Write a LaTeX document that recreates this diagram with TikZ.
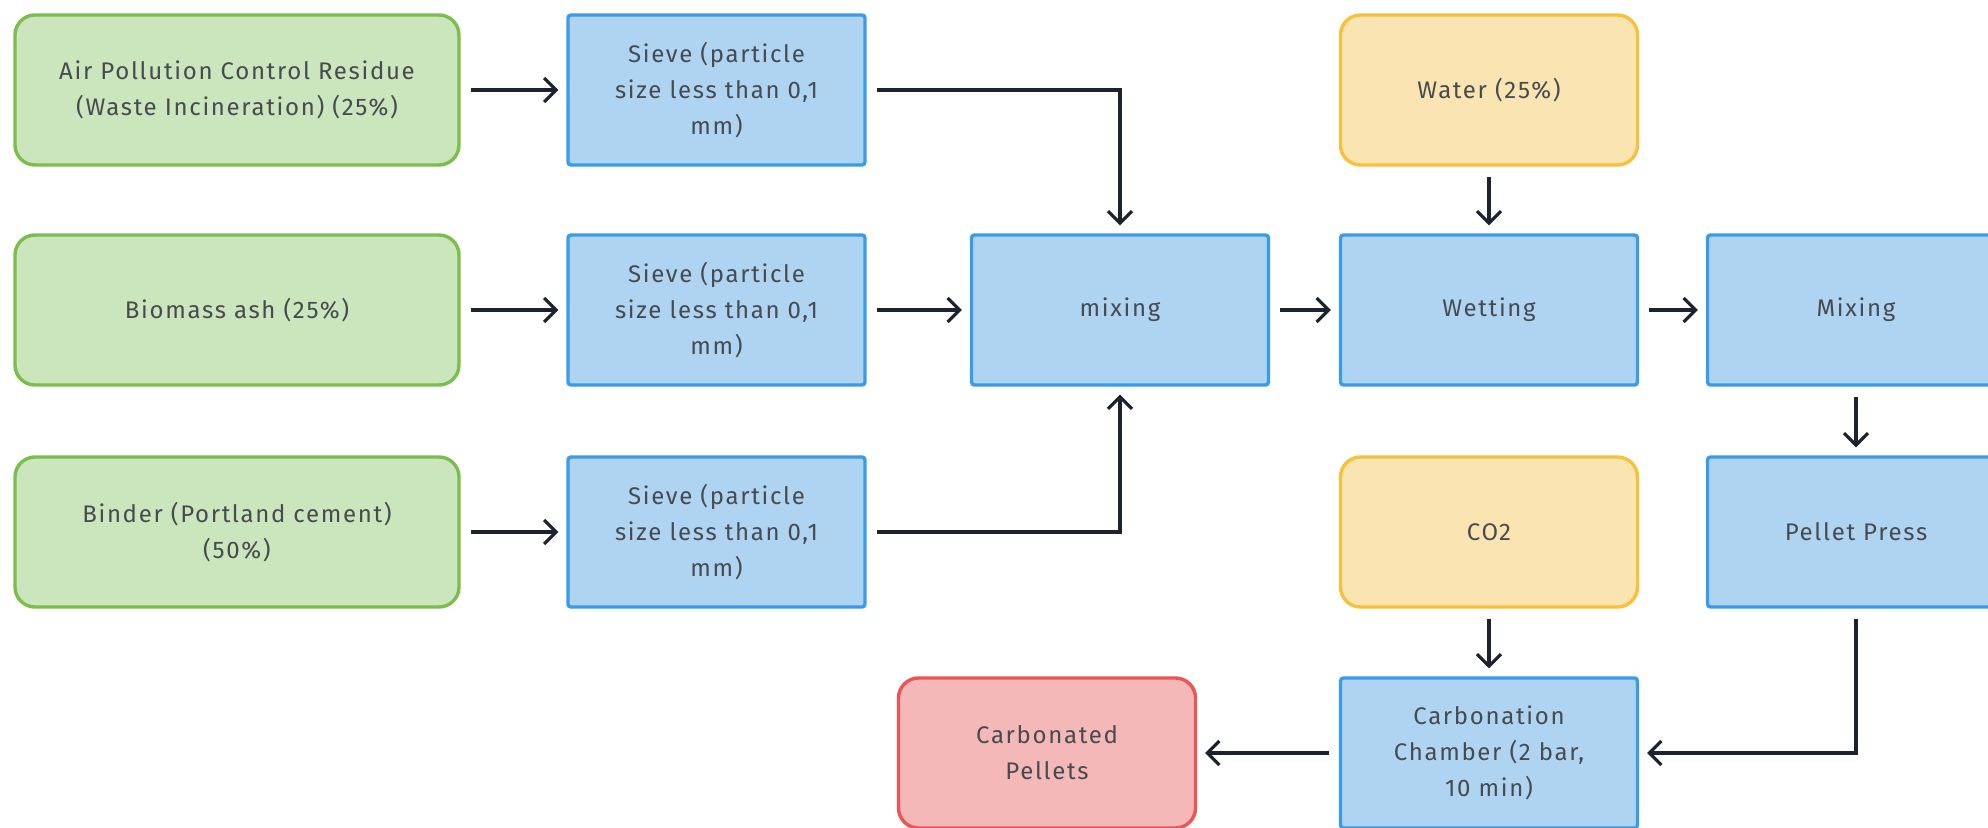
\documentclass[tikz,border=0pt]{standalone}
\usepackage{fontspec}
\setmainfont{Fira Sans}[LetterSpace=7]
\usetikzlibrary{arrows.meta}
\definecolor{gfill}{HTML}{CBE5BC}
\definecolor{gdraw}{HTML}{7BBE4D}
\definecolor{bfill}{HTML}{AED4F2}
\definecolor{bdraw}{HTML}{3A9BE8}
\definecolor{yfill}{HTML}{FAE5B2}
\definecolor{ydraw}{HTML}{F8C13C}
\definecolor{rfill}{HTML}{F5B8B8}
\definecolor{rdraw}{HTML}{EB5555}
\definecolor{txt}{HTML}{464B50}
\definecolor{arr}{HTML}{1C2230}
\tikzset{
  box/.style={draw, line width=1.7pt, minimum width=148.5pt, minimum height=75pt,
    align=center, text=txt, font=\fontsize{12}{18}\selectfont, inner sep=2pt},
  greenbox/.style={box, fill=gfill, draw=gdraw, rounded corners=10pt, minimum width=222pt},
  bluebox/.style={box, fill=bfill, draw=bdraw, rounded corners=1.5pt},
  yellowbox/.style={box, fill=yfill, draw=ydraw, rounded corners=10pt},
  redbox/.style={box, fill=rfill, draw=rdraw, rounded corners=10pt},
  flow/.style={draw=arr, line width=1.6pt, -{Straight Barb[length=6pt,width=12pt,line width=1.6pt]},
    shorten <=5pt, shorten >=4pt},
}
\begin{document}
\begin{tikzpicture}[x=0.5pt,y=-0.5pt]
\useasboundingbox (0,0) rectangle (1988,828);
\clip (0,0) rectangle (1988,828);
\fill[white] (0,0) rectangle (1988,828);
% column 1
\node[greenbox] (apc) at (237,90) {Air Pollution Control Residue\\(Waste Incineration) (25\%)};
\node[greenbox] (bio) at (237,310) {Biomass ash (25\%)};
\node[greenbox] (bind) at (237,532) {Binder (Portland cement)\\(50\%)};
% sieves
\node[bluebox] (s1) at (716.5,90) {Sieve (particle\\size less than 0,1\\mm)};
\node[bluebox] (s2) at (716.5,310) {Sieve (particle\\size less than 0,1\\mm)};
\node[bluebox] (s3) at (716.5,532) {Sieve (particle\\size less than 0,1\\mm)};
% middle
\node[bluebox] (mix1) at (1120,310) {mixing};
\node[yellowbox] (water) at (1489,90) {Water (25\%)};
\node[bluebox] (wet) at (1489,310) {Wetting};
\node[yellowbox] (co2) at (1489,532) {CO2};
\node[bluebox] (cham) at (1489,753) {Carbonation\\Chamber (2 bar,\\10 min)};
\node[bluebox] (mix2) at (1856,310) {Mixing};
\node[bluebox] (press) at (1856,532) {Pellet Press};
\node[redbox] (pel) at (1047,753) {Carbonated\\Pellets};
% arrows
\draw[flow] (apc) -- (s1);
\draw[flow] (bio) -- (s2);
\draw[flow] (bind) -- (s3);
\draw[flow] (s1.east) -| (mix1.north);
\draw[flow] (s2) -- (mix1);
\draw[flow] (s3.east) -| (mix1.south);
\draw[flow] (mix1) -- (wet);
\draw[flow] (water) -- (wet);
\draw[flow] (wet) -- (mix2);
\draw[flow] (mix2) -- (press);
\draw[flow] (co2) -- (cham);
\draw[flow] (press.south) |- (cham.east);
\draw[flow] (cham) -- (pel);
\end{tikzpicture}
\end{document}
